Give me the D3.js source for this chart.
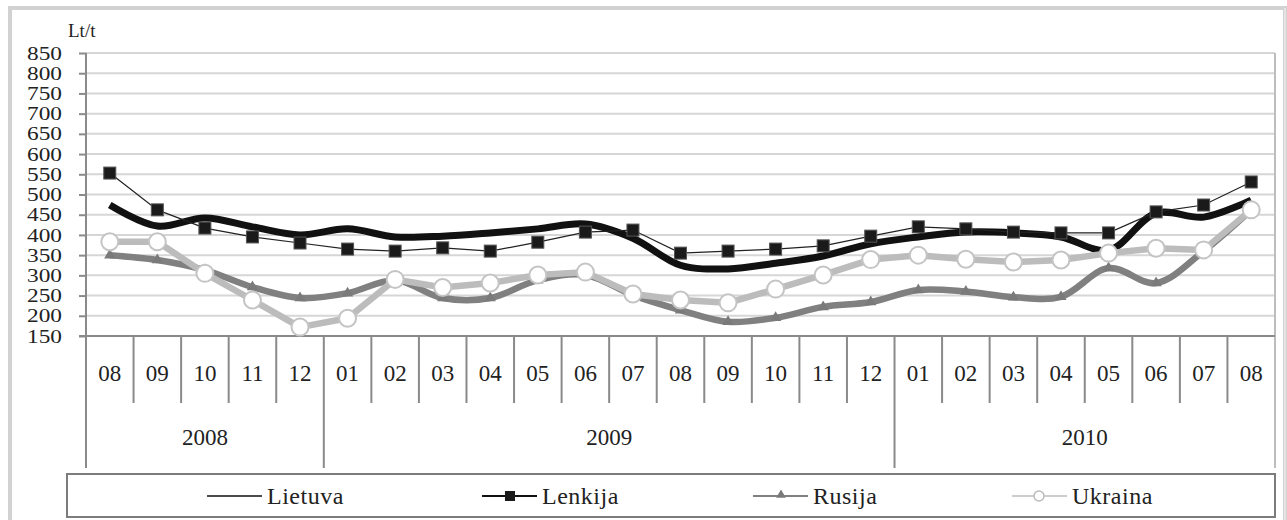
<!DOCTYPE html>
<html>
<head>
<meta charset="utf-8">
<script src="https://cdn.jsdelivr.net/npm/d3@7"></script>
<style>
  body { margin: 0; background: #fff; }
</style>
</head>
<body>
<div id="chart"></div>
<script>
const months = ['08', '09', '10', '11', '12',
  '01', '02', '03', '04', '05', '06', '07', '08', '09', '10', '11', '12',
  '01', '02', '03', '04', '05', '06', '07', '08'];
const yearLabels = ['2008', '2009', '2010'];
const yearSpans = [5, 12, 8];
const yTicks = [150, 200, 250, 300, 350, 400, 450, 500, 550, 600, 650, 700, 750, 800, 850];

const lietuva = [474, 422, 442, 420, 400, 415, 395, 397, 405, 415, 427, 392, 325, 316, 330, 348, 378, 395, 407, 405, 395, 362, 454, 444, 486];
const lenkija = [553, 462, 417, 395, 380, 365, 360, 368, 360, 382, 407, 412, 355, 360, 365, 373, 397, 420, 415, 407, 405, 405, 457, 474, 531];
const rusija = [350, 338, 313, 271, 244, 256, 288, 244, 244, 288, 301, 251, 214, 185, 195, 222, 234, 264, 260, 246, 247, 318, 281, 360, 462];
const ukraina = [383, 383, 305, 239, 172, 194, 290, 270, 281, 301, 308, 254, 239, 232, 266, 301, 339, 350, 340, 333, 338, 355, 367, 363, 462];

const width = 1287;
const height = 520;
const plot = { left: 86, right: 1275, top: 53, bottom: 336 };
const axisBottom = 468;
const serif = 'Liberation Serif';

const svg = d3.select('#chart')
  .append('svg')
  .attr('width', width)
  .attr('height', height)
  .attr('font-family', serif);

// outer frame
svg.append('rect')
  .attr('x', 10).attr('y', 8)
  .attr('width', 1275).attr('height', 530)
  .attr('fill', 'none')
  .attr('stroke', '#d2d2d2')
  .attr('stroke-width', 4);
svg.append('line')
  .attr('x1', 1285).attr('x2', 1285).attr('y1', 8).attr('y2', 520)
  .attr('stroke', '#e4e4e4').attr('stroke-width', 2);

const x = d3.scaleBand()
  .domain(d3.range(months.length))
  .range([plot.left, plot.right]);

const y = d3.scaleLinear()
  .domain([150, 850])
  .range([plot.bottom, plot.top]);

const cx = (i) => x(i) + x.bandwidth() / 2;

// grid
svg.append('g')
  .selectAll('line')
  .data(yTicks.slice(1))
  .enter()
  .append('line')
  .attr('x1', plot.left).attr('x2', plot.right)
  .attr('y1', (d) => y(d)).attr('y2', (d) => y(d))
  .attr('stroke', '#d6d6d6')
  .attr('stroke-width', 2);

// y axis
const yAxis = svg.append('g')
  .attr('transform', `translate(${plot.left},0)`)
  .call(d3.axisLeft(y).tickValues(yTicks).tickSize(7).tickPadding(17));
yAxis.attr('font-family', serif).attr('font-size', 18);
yAxis.select('.domain').remove();
yAxis.selectAll('.tick line').attr('stroke', '#8a8a8a').attr('stroke-width', 2);
yAxis.selectAll('.tick text')
  .attr('fill', '#222')
  .attr('textLength', 35)
  .attr('lengthAdjust', 'spacingAndGlyphs')
  .attr('dy', '0.34em');

svg.append('text')
  .attr('x', 68).attr('y', 37)
  .attr('font-size', 19)
  .attr('fill', '#222')
  .text('Lt/t');

// frame lines of plot and category axis
const axisColor = '#8a8a8a';
svg.append('line')
  .attr('x1', plot.left).attr('x2', plot.left)
  .attr('y1', plot.top).attr('y2', axisBottom)
  .attr('stroke', axisColor).attr('stroke-width', 2);
svg.append('line')
  .attr('x1', plot.right).attr('x2', plot.right)
  .attr('y1', plot.top).attr('y2', axisBottom)
  .attr('stroke', '#bdbdbd').attr('stroke-width', 2);
svg.append('line')
  .attr('x1', plot.left - 7).attr('x2', plot.right)
  .attr('y1', plot.bottom).attr('y2', plot.bottom)
  .attr('stroke', axisColor).attr('stroke-width', 2);

// month separators
const yearStarts = yearSpans.map((s, i) => d3.sum(yearSpans.slice(0, i)));
svg.append('g')
  .selectAll('line')
  .data(d3.range(1, months.length))
  .enter()
  .append('line')
  .attr('x1', (i) => x(i)).attr('x2', (i) => x(i))
  .attr('y1', plot.bottom)
  .attr('y2', (i) => (yearStarts.includes(i) ? axisBottom : 403))
  .attr('stroke', axisColor).attr('stroke-width', 2);

svg.append('g')
  .selectAll('text')
  .data(months)
  .enter()
  .append('text')
  .attr('x', (d, i) => cx(i))
  .attr('y', 373)
  .attr('dy', '0.35em')
  .attr('text-anchor', 'middle')
  .attr('font-size', 23)
  .attr('fill', '#222')
  .text((d) => d);

svg.append('g')
  .selectAll('text')
  .data(yearLabels)
  .enter()
  .append('text')
  .attr('x', (d, i) => (x(yearStarts[i]) + x(yearStarts[i] + yearSpans[i] - 1) + x.bandwidth()) / 2)
  .attr('y', 437)
  .attr('dy', '0.35em')
  .attr('text-anchor', 'middle')
  .attr('font-size', 23)
  .attr('fill', '#222')
  .text((d) => d);

// series
const smooth = d3.line().x((d, i) => cx(i)).y((d) => y(d)).curve(d3.curveCatmullRom.alpha(0.5));
const straight = d3.line().x((d, i) => cx(i)).y((d) => y(d));

svg.append('path')
  .attr('d', smooth(lietuva))
  .attr('fill', 'none')
  .attr('stroke', '#111')
  .attr('stroke-width', 7)
  .attr('stroke-linejoin', 'round');

svg.append('path')
  .attr('d', smooth(rusija))
  .attr('fill', 'none')
  .attr('stroke', '#808080')
  .attr('stroke-width', 6.5)
  .attr('stroke-linejoin', 'round');

const tri = d3.symbol().type(d3.symbolTriangle).size(55);
svg.append('g')
  .selectAll('path')
  .data(rusija)
  .enter()
  .append('path')
  .attr('transform', (d, i) => `translate(${cx(i)},${y(d)})`)
  .attr('d', tri)
  .attr('fill', '#7a7a7a');

svg.append('path')
  .attr('d', straight(ukraina))
  .attr('fill', 'none')
  .attr('stroke', '#bcbcbc')
  .attr('stroke-width', 6.5)
  .attr('stroke-linejoin', 'round');

svg.append('g')
  .selectAll('circle')
  .data(ukraina)
  .enter()
  .append('circle')
  .attr('cx', (d, i) => cx(i))
  .attr('cy', (d) => y(d))
  .attr('r', 8.5)
  .attr('fill', '#fff')
  .attr('stroke', '#c4c4c4')
  .attr('stroke-width', 2);

svg.append('path')
  .attr('d', straight(lenkija))
  .attr('fill', 'none')
  .attr('stroke', '#222')
  .attr('stroke-width', 1.2);

svg.append('g')
  .selectAll('rect')
  .data(lenkija)
  .enter()
  .append('rect')
  .attr('x', (d, i) => cx(i) - 6)
  .attr('y', (d) => y(d) - 6)
  .attr('width', 12)
  .attr('height', 12)
  .attr('fill', '#1a1a1a')
  .attr('stroke', '#555')
  .attr('stroke-width', 1);

// legend
const legend = svg.append('g');
legend.append('rect')
  .attr('x', 67).attr('y', 474)
  .attr('width', 1208).attr('height', 43)
  .attr('fill', '#fff')
  .attr('stroke', '#7c7c7c')
  .attr('stroke-width', 2);

const legendNames = ['Lietuva', 'Lenkija', 'Rusija', 'Ukraina'];
const legendX = [207, 482, 753, 1012];
const ly = 496;
const items = legend.selectAll('g.item')
  .data(legendNames)
  .enter()
  .append('g')
  .attr('class', 'item')
  .attr('transform', (d, i) => `translate(${legendX[i]},${ly})`);

const legendStroke = ['#111', '#111', '#808080', '#bcbcbc'];
const legendWidth = [1.5, 2, 2, 1.5];
items.append('line')
  .attr('x1', 0).attr('x2', 55)
  .attr('stroke', (d, i) => legendStroke[i])
  .attr('stroke-width', (d, i) => legendWidth[i]);

items.filter((d, i) => i === 1).append('rect')
  .attr('x', 23).attr('y', -5).attr('width', 10).attr('height', 10)
  .attr('fill', '#1a1a1a');
items.filter((d, i) => i === 2).append('path')
  .attr('transform', 'translate(28,-1)')
  .attr('d', d3.symbol().type(d3.symbolTriangle).size(40))
  .attr('fill', '#7a7a7a');
items.filter((d, i) => i === 3).append('circle')
  .attr('cx', 27).attr('r', 5)
  .attr('fill', '#fff').attr('stroke', '#bcbcbc').attr('stroke-width', 1.5);

items.append('text')
  .attr('x', 60)
  .attr('dy', '0.35em')
  .attr('font-size', 24)
  .attr('letter-spacing', 0.5)
  .attr('fill', '#222')
  .text((d) => d);
</script>
</body>
</html>
